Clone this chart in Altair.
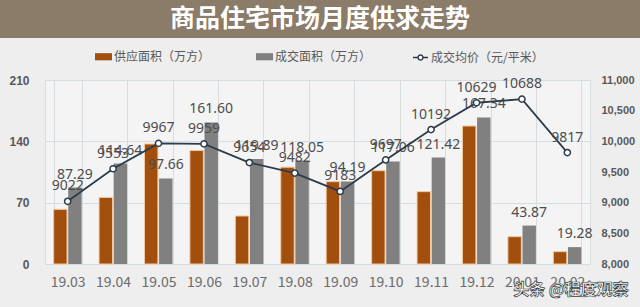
import altair as alt
import pandas as pd

months = ["19.03", "19.04", "19.05", "19.06", "19.07", "19.08",
          "19.09", "19.10", "19.11", "19.12", "20.01", "20.02"]
supply = [62.4, 76.0, 137.0, 129.5, 54.8, 110.5, 94.0, 106.5, 82.6, 157.5, 31.2, 14.1]
deal = [87.29, 114.64, 97.66, 161.60, 119.89, 118.05, 94.19, 117.06, 121.42, 167.34, 43.87, 19.28]
price = [9022, 9553, 9967, 9959, 9654, 9482, 9183, 9697, 10192, 10629, 10688, 9817]
series_names = ["供应面积（万方）", "成交面积（万方）", "成交均价（元/平米）"]
left_ticks = [0, 70, 140, 210]
right_ticks = [8000, 8500, 9000, 9500, 10000, 10500, 11000]
title_text = "商品住宅市场月度供求走势"
watermark = "头条 @程度观察"

ORANGE = "#a24f0e"
GRAY = "#808080"
LINE = "#2d3b4a"
GRID = "#d6dde1"
CJK = "Noto Sans CJK SC"

bars_df = pd.DataFrame({
    "month": months * 2,
    "series": [series_names[0]] * len(months) + [series_names[1]] * len(months),
    "value": supply + deal,
})
deal_df = pd.DataFrame({
    "month": months,
    "series": [series_names[1]] * len(months),
    "value": deal,
    "label": [f"{v:.2f}" for v in deal],
})
price_df = pd.DataFrame({
    "month": months,
    "series": [series_names[2]] * len(months),
    "price": price,
})
title_df = pd.DataFrame({"t": [title_text]})
wm_df = pd.DataFrame({"t": [watermark]})

x_enc = alt.X(
    "month:N", sort=months,
    scale=alt.Scale(paddingInner=0.383, paddingOuter=0.19),
    axis=alt.Axis(title=None, labelAngle=0, tickBand="extent", grid=True,
                  gridColor=GRID, ticks=False, domain=False, labelPadding=11,
                  labelFontSize=14, labelColor="#6b6b6b", labelFont=CJK),
)
xoff_enc = alt.XOffset("series:N", sort=series_names[:2],
                       scale=alt.Scale(domain=series_names[:2], paddingInner=0.08))

y_left = alt.Y(
    "value:Q",
    scale=alt.Scale(domain=[0, 210], nice=False),
    axis=alt.Axis(values=left_ticks, title=None, domain=False, ticks=False,
                  labelPadding=16, labelFontWeight="bold", labelFontSize=12,
                  labelColor="#595959", gridColor=GRID),
)

bars = alt.Chart(bars_df).mark_bar(strokeWidth=1).encode(
    x=x_enc,
    xOffset=xoff_enc,
    y=y_left,
    fill=alt.Fill(
        "series:N",
        scale=alt.Scale(domain=series_names[:2], range=[ORANGE, GRAY]),
        legend=alt.Legend(
            title=None, orient="none", legendX=50, legendY=-32,
            direction="horizontal", padding=0,
            symbolType="M-1,-0.42L1,-0.42L1,0.42L-1,0.42Z", symbolSize=289,
            symbolStrokeWidth=0, labelOffset=2, columnPadding=45,
            labelFont=CJK, labelFontSize=12, labelColor="#595959",
        ),
    ),
    stroke=alt.condition(alt.datum.series == series_names[0],
                         alt.value("#f2c9a0"), alt.value("transparent")),
)

deal_text = alt.Chart(deal_df).mark_text(
    baseline="alphabetic", dy=-9, fontSize=14, color="#4d4d4d", font="Noto Sans"
).encode(x=x_enc, xOffset=xoff_enc, y=y_left, text="label:N")

left = alt.layer(bars, deal_text)

y_right = alt.Y(
    "price:Q",
    scale=alt.Scale(domain=[8000, 11000], nice=False, zero=False),
    axis=alt.Axis(orient="right", values=right_ticks, title=None, grid=False,
                  domain=False, ticks=False, labelPadding=11,
                  labelFontWeight="bold", labelFontSize=11, labelColor="#595959"),
)
stroke_enc = alt.Stroke(
    "series:N",
    scale=alt.Scale(domain=[series_names[2]], range=[LINE]),
    legend=alt.Legend(
        title=None, orient="none", legendX=367, legendY=-31, padding=0,
        symbolType="M-1,0H-0.33M0.33,0H1M0.33,0A0.33,0.33 0 1 1 -0.33,0A0.33,0.33 0 1 1 0.33,0",
        symbolSize=225, symbolFillColor="white", symbolStrokeWidth=1.5,
        labelOffset=2, labelFont=CJK, labelFontSize=12, labelColor="#595959",
    ),
)

line = alt.Chart(price_df).mark_line(strokeWidth=1.8).encode(
    x=x_enc, y=y_right, stroke=stroke_enc)
points = alt.Chart(price_df).mark_point(
    shape="circle", fill="white", fillOpacity=1, opacity=1, size=38, strokeWidth=1.5
).encode(x=x_enc, y=y_right, stroke=stroke_enc)
price_text = alt.Chart(price_df).mark_text(
    baseline="alphabetic", dy=-11, fontSize=14, color="#4d4d4d", font="Noto Sans"
).encode(x=x_enc, y=y_right, text="price:Q")

right = alt.layer(line, points, price_text)

title_bar = alt.Chart(title_df).mark_rect(color="#8b7b69").encode(
    x=alt.value(-45), x2=alt.value(595), y=alt.value(-80), y2=alt.value(-42))
title_mark = alt.Chart(title_df).mark_text(
    font=CJK, fontSize=25, fontWeight="bold", color="white", baseline="middle", align="center"
).encode(x=alt.value(275), y=alt.value(-61), text="t:N")
wm_mark = alt.Chart(wm_df).mark_text(
    font=CJK, fontSize=16, fontWeight="bold", fill="white", stroke="#3a3a3a",
    strokeWidth=0.7, baseline="middle", align="center"
).encode(x=alt.value(526), y=alt.value(210), text="t:N")

chart = alt.layer(title_bar, left, right, title_mark, wm_mark).resolve_scale(
    y="independent"
).properties(
    width=545, height=184,
    padding={"left": 45, "top": 80, "right": 50, "bottom": 43},
    autosize="none",
).configure(background="#eeeeee").configure_view(
    fill="#f4f4f4", stroke=GRID
)

chart.save("out.html", embed_options={"renderer": "svg", "actions": False})
